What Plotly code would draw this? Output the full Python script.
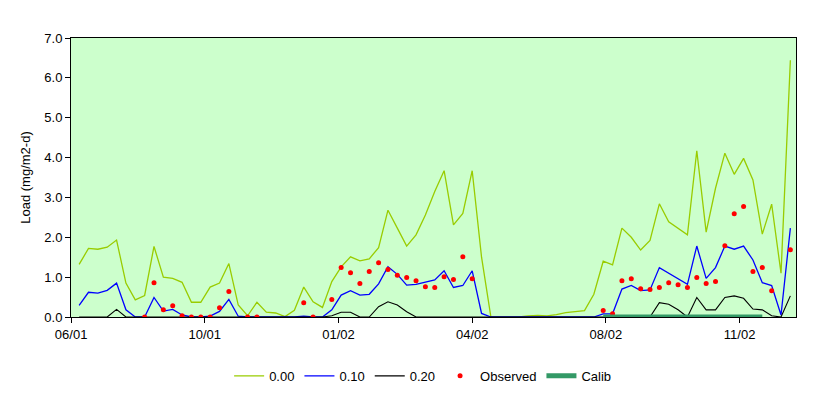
import pandas as pd
import plotly.graph_objects as go

# ---- data (weekly values) ----
load_000 = [1.32, 1.72, 1.70, 1.75, 1.93, 0.85, 0.43, 0.54, 1.77, 1.00,
            0.97, 0.87, 0.37, 0.37, 0.75, 0.85, 1.34, 0.30, 0.03, 0.37,
            0.12, 0.10, 0.01, 0.17, 0.75, 0.38, 0.24, 0.89, 1.26, 1.51,
            1.41, 1.46, 1.74, 2.68, 2.23, 1.78, 2.06, 2.56, 3.15, 3.67,
            2.31, 2.60, 3.67, 1.50, 0.00, 0.00, 0.00, 0.00, 0.03, 0.04,
            0.03, 0.06, 0.11, 0.13, 0.16, 0.57, 1.40, 1.31, 2.23, 2.00,
            1.68, 1.92, 2.84, 2.39, 2.23, 2.06, 4.17, 2.13, 3.23, 4.11,
            3.58, 3.98, 3.44, 2.08, 2.83, 1.10, 6.44]
load_010 = [0.29, 0.62, 0.60, 0.67, 0.85, 0.18, 0.00, 0.00, 0.49, 0.15,
            0.19, 0.05, 0.00, 0.00, 0.02, 0.14, 0.44, 0.02, 0.00, 0.00,
            0.00, 0.00, 0.00, 0.00, 0.02, 0.00, 0.00, 0.18, 0.55, 0.66,
            0.55, 0.57, 0.83, 1.26, 1.07, 0.80, 0.82, 0.87, 0.93, 1.16,
            0.74, 0.79, 1.16, 0.09, 0.00, 0.00, 0.00, 0.00, 0.00, 0.00,
            0.00, 0.00, 0.00, 0.00, 0.00, 0.00, 0.08, 0.08, 0.70, 0.79,
            0.66, 0.68, 1.24, 1.10, 0.97, 0.82, 1.78, 0.97, 1.24, 1.78,
            1.70, 1.78, 1.43, 0.86, 0.79, 0.05, 2.23]
load_020 = [0.00, 0.00, 0.00, 0.00, 0.19, 0.00, 0.00, 0.00, 0.00, 0.00,
            0.00, 0.00, 0.00, 0.00, 0.00, 0.00, 0.00, 0.00, 0.00, 0.00,
            0.00, 0.00, 0.00, 0.00, 0.00, 0.00, 0.00, 0.03, 0.12, 0.12,
            0.00, 0.00, 0.26, 0.38, 0.30, 0.13, 0.00, 0.00, 0.00, 0.00,
            0.00, 0.00, 0.00, 0.00, 0.00, 0.00, 0.00, 0.00, 0.00, 0.00,
            0.00, 0.00, 0.00, 0.00, 0.00, 0.00, 0.00, 0.00, 0.00, 0.00,
            0.00, 0.00, 0.36, 0.32, 0.18, 0.00, 0.49, 0.18, 0.18, 0.49,
            0.53, 0.47, 0.20, 0.18, 0.03, 0.00, 0.53]
observed = [None, None, None, None, None, None, None, 0.00, 0.86, 0.18,
            0.28, 0.03, 0.00, 0.00, 0.00, 0.23, 0.64, None, 0.00, 0.00,
            None, None, None, None, 0.36, 0.00, None, 0.44, 1.24, 1.11,
            0.84, 1.14, 1.36, 1.19, 1.05, 0.99, 0.91, 0.76, 0.74, 1.01,
            0.94, 1.51, 0.96, None, None, None, None, None, None, None,
            None, None, None, None, None, None, 0.16, 0.08, 0.91, 0.96,
            0.71, 0.69, 0.74, 0.86, 0.81, 0.74, 0.99, 0.84, 0.89, 1.79,
            2.59, 2.77, 1.14, 1.24, 0.66, None, 1.69]
calib = [None] * 56 + [0.0] * 18 + [None] * 3

dates = pd.date_range("2001-07-03", periods=len(load_000), freq="7D")
tick_dates = pd.date_range("2001-06-27", periods=6, freq="100D")
tick_labels = ["06/01", "10/01", "01/02", "04/02", "08/02", "11/02"]

FONT = "Liberation Sans, Arial, sans-serif"

fig = go.Figure()
fig.add_trace(go.Scatter(x=dates, y=load_000, name="0.00", mode="lines",
                         line=dict(color="#99CC00", width=1.3)))
fig.add_trace(go.Scatter(x=dates, y=load_010, name="0.10", mode="lines",
                         line=dict(color="#0000FF", width=1.3)))
fig.add_trace(go.Scatter(x=dates, y=load_020, name="0.20", mode="lines",
                         line=dict(color="#000000", width=1.1)))
fig.add_trace(go.Scatter(x=dates, y=observed, name="Observed", mode="markers",
                         marker=dict(color="#FF0000", size=5)))
fig.add_trace(go.Scatter(x=dates, y=calib, name="Calib", mode="lines",
                         line=dict(color="#339966", width=5)))

# page body has an 8px default margin; compensate in the figure margins
fig.update_layout(
    width=829, height=396,
    margin=dict(l=63, r=41, t=30, b=87, autoexpand=False),
    paper_bgcolor="white", plot_bgcolor="#CCFFCC",
    font=dict(family=FONT, size=13, color="black"),
    showlegend=True,
    legend=dict(orientation="h", x=0.485, xanchor="center",
                yref="container", y=0.071, yanchor="middle",
                font=dict(size=13), tracegroupgap=0, itemwidth=30),
)
fig.update_xaxes(
    type="date", range=["2001-06-26 22:00", "2002-12-21 05:00"],
    tickvals=tick_dates, ticktext=tick_labels, automargin=False,
    showgrid=False, zeroline=False, showline=True, linecolor="black",
    linewidth=1, mirror=True, ticks="outside", ticklen=5, tickcolor="black",
    tickfont=dict(size=13),
)
fig.update_yaxes(
    range=[0, 7], dtick=1, tickformat=".1f", automargin=False,
    showgrid=False, zeroline=False, showline=True, linecolor="black",
    linewidth=1, mirror=True, ticks="outside", ticklen=5, tickcolor="black",
    tickfont=dict(size=13),
    title=dict(text="Load (mg/m2-d)", font=dict(size=13), standoff=10),
)

fig.write_html("out.html")
